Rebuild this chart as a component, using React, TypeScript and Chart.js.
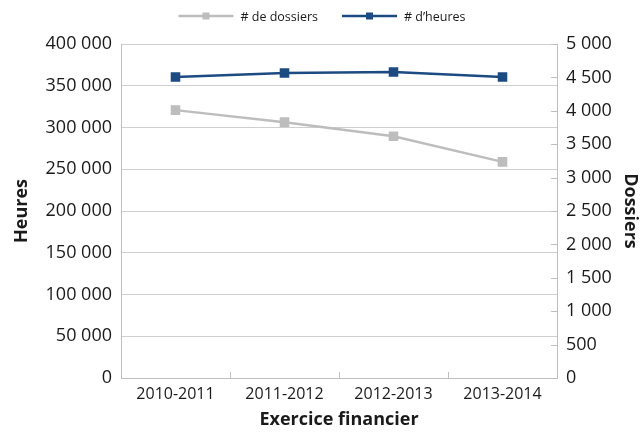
import React, { useEffect, useRef } from "react";
import { Chart, registerables } from "chart.js";

Chart.register(...registerables);

const categories = ["2010-2011", "2011-2012", "2012-2013", "2013-2014"];
const dossiers = [4010, 3830, 3620, 3235];
const heures = [360400, 365200, 366400, 360400];
const heuresMax = 400000;
const heuresStep = 50000;
const dossiersMax = 5000;
const dossiersStep = 500;
const seriesNames = ["# de dossiers", "# d\u2019heures"];
const axisTitles = { x: "Exercice financier", y: "Heures", y1: "Dossiers" };

const GRAY = "#bdbdbd";
const BLUE = "#1c4b82";
const FONT = "'Open Sans', 'Noto Sans', sans-serif";

const fmt = (v: number) =>
  String(Math.round(v)).replace(/\B(?=(\d{3})+(?!\d))/g, " ");

const innerTicks = {
  id: "innerTicks",
  beforeDatasetsDraw(chart: any) {
    const { ctx, chartArea, scales } = chart;
    ctx.save();
    ctx.strokeStyle = "#bfbfbf";
    ctx.lineWidth = 1;
    const n = categories.length;
    const w = (chartArea.right - chartArea.left) / n;
    for (let i = 1; i < n; i++) {
      const x = Math.round(chartArea.left + i * w) + 0.5;
      ctx.beginPath();
      ctx.moveTo(x, chartArea.bottom);
      ctx.lineTo(x, chartArea.bottom - 6);
      ctx.stroke();
    }
    const y1 = scales.y1;
    for (const t of y1.ticks) {
      const y = Math.round(y1.getPixelForValue(t.value)) + 0.5;
      ctx.beginPath();
      ctx.moveTo(chartArea.right - 6, y);
      ctx.lineTo(chartArea.right, y);
      ctx.stroke();
    }
    ctx.restore();
  },
};

const customLegend = {
  id: "customLegend",
  afterDraw(chart: any) {
    const { ctx, width } = chart;
    ctx.save();
    ctx.font = `12.5px ${FONT}`;
    ctx.textBaseline = "middle";
    const lineLen = 55;
    const gap = 7;
    const spacing = 24;
    const items = chart.data.datasets.map((d: any) => ({
      label: d.label,
      color: d.borderColor,
      tw: ctx.measureText(d.label).width,
    }));
    const total =
      items.reduce((s: number, it: any) => s + lineLen + gap + it.tw, 0) +
      spacing * (items.length - 1);
    let x = width / 2 - total / 2;
    const y = 16;
    for (const it of items) {
      ctx.strokeStyle = it.color;
      ctx.lineWidth = 2.5;
      ctx.beginPath();
      ctx.moveTo(x, y);
      ctx.lineTo(x + lineLen, y);
      ctx.stroke();
      ctx.fillStyle = it.color;
      ctx.fillRect(x + lineLen / 2 - 3.5, y - 3.5, 7, 7);
      ctx.fillStyle = "#1a1a1a";
      ctx.fillText(it.label, x + lineLen + gap, y + 1);
      x += lineLen + gap + it.tw + spacing;
    }
    ctx.restore();
  },
};

export default function App() {
  const ref = useRef<HTMLCanvasElement>(null);

  useEffect(() => {
    if (!ref.current) return;
    const chart = new Chart(ref.current, {
      type: "line",
      data: {
        labels: categories,
        datasets: [
          {
            label: seriesNames[0],
            data: dossiers,
            yAxisID: "y1",
            borderColor: GRAY,
            backgroundColor: GRAY,
            borderWidth: 2.5,
            pointStyle: "rect",
            pointRadius: 5,
            pointHoverRadius: 5,
            tension: 0,
          },
          {
            label: seriesNames[1],
            data: heures,
            yAxisID: "y",
            borderColor: BLUE,
            backgroundColor: BLUE,
            borderWidth: 2.5,
            pointStyle: "rect",
            pointRadius: 5,
            pointHoverRadius: 5,
            tension: 0,
          },
        ],
      },
      options: {
        animation: false,
        responsive: true,
        maintainAspectRatio: false,
        layout: { padding: { top: 44, left: 0, right: 0, bottom: 0 } },
        plugins: {
          legend: { display: false },
          tooltip: { enabled: false },
        },
        scales: {
          x: {
            offset: true,
            grid: { display: false, drawOnChartArea: false, drawTicks: false },
            border: { display: true, color: "#bfbfbf" },
            ticks: {
              padding: 7,
              color: "#1a1a1a",
              font: { family: FONT, size: 16 },
            },
            title: {
              display: true,
              text: axisTitles.x,
              color: "#1a1a1a",
              font: { family: FONT, size: 18, weight: "bold" },
              padding: { top: 0, bottom: 1 },
            },
            afterFit: (s: any) => {
              s.height = 54;
            },
          },
          y: {
            position: "left",
            min: 0,
            max: heuresMax,
            ticks: {
              stepSize: heuresStep,
              padding: 9,
              color: "#1a1a1a",
              font: { family: FONT, size: 18 },
              callback: (v: any) => fmt(Number(v)),
            },
            grid: { color: "#cfcfcf", drawTicks: false },
            border: { display: true, color: "#bfbfbf" },
            title: {
              display: true,
              text: axisTitles.y,
              color: "#1a1a1a",
              font: { family: FONT, size: 18, weight: "bold" },
              padding: { top: 11, bottom: 0 },
            },
            afterFit: (s: any) => {
              s.width = 121;
            },
          },
          y1: {
            position: "right",
            min: 0,
            max: dossiersMax,
            ticks: {
              stepSize: dossiersStep,
              padding: 9,
              color: "#1a1a1a",
              font: { family: FONT, size: 18 },
              callback: (v: any) => fmt(Number(v)),
            },
            grid: { drawOnChartArea: false, drawTicks: false },
            border: { display: true, color: "#bfbfbf" },
            title: {
              display: true,
              text: axisTitles.y1,
              color: "#1a1a1a",
              font: { family: FONT, size: 18, weight: "bold" },
              padding: { top: 3, bottom: 0 },
            },
            afterFit: (s: any) => {
              s.width = 87;
            },
          },
        },
      },
      plugins: [innerTicks, customLegend],
    });
    return () => chart.destroy();
  }, []);

  return (
    <div
      style={{
        position: "absolute",
        left: 0,
        top: 0,
        width: 644,
        height: 432,
        background: "#ffffff",
      }}
    >
      <canvas ref={ref} />
    </div>
  );
}
